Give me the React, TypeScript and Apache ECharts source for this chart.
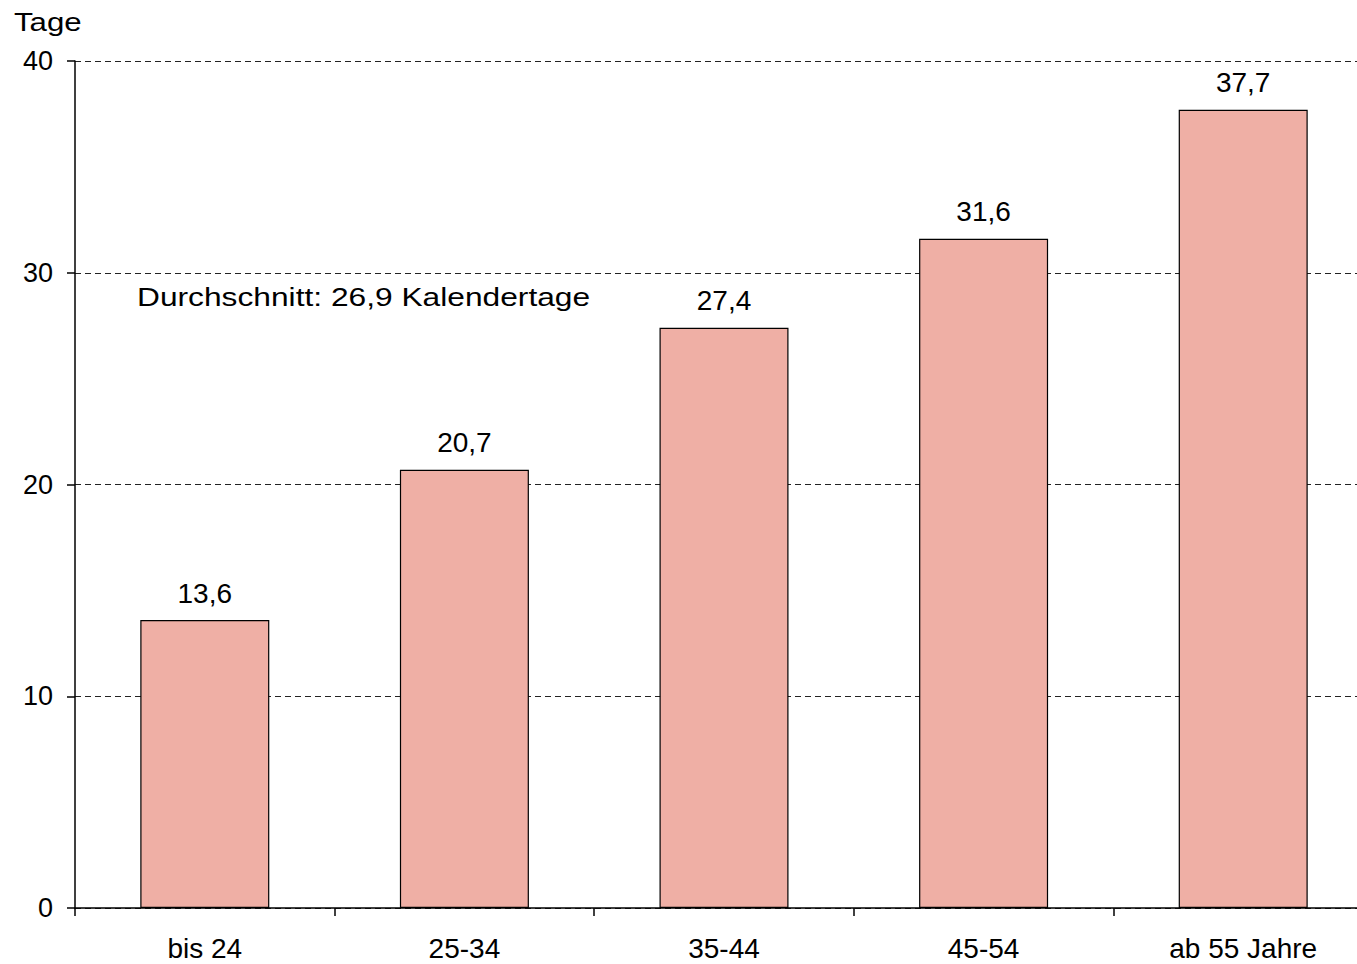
import React, { useEffect, useRef } from "react";
import * as echarts from "echarts";

const categories = ["bis 24", "25-34", "35-44", "45-54", "ab 55 Jahre"];
const values = [13.6, 20.7, 27.4, 31.6, 37.7];
const yTicks = [0, 10, 20, 30, 40];
const axisTitle = "Tage";
const averageNote = "Durchschnitt: 26,9 Kalendertage";

const FONT = "'Liberation Sans', Arial, Helvetica, sans-serif";

export default function App() {
  const ref = useRef<HTMLDivElement>(null);
  useEffect(() => {
    if (!ref.current) return;
    const chart = echarts.init(ref.current, undefined, { renderer: "svg" });
    chart.setOption({
      animation: false,
      backgroundColor: "#ffffff",
      textStyle: { fontFamily: FONT },
      grid: { left: 75, right: 0, top: 61, bottom: 56, containLabel: false },
      xAxis: {
        type: "category",
        data: categories,
        boundaryGap: true,
        axisLine: { show: true, lineStyle: { color: "#000", width: 1.5 } },
        axisTick: { show: true, alignWithLabel: false, length: 8, lineStyle: { color: "#000", width: 1.5 } },
        axisLabel: { color: "#000", fontSize: 28, fontFamily: FONT, margin: 26 },
        splitLine: { show: false },
      },
      yAxis: {
        type: "value",
        min: yTicks[0],
        max: yTicks[yTicks.length - 1],
        interval: 10,
        axisLine: { show: true, lineStyle: { color: "#000", width: 1.5 } },
        axisTick: { show: true, inside: false, length: 8, lineStyle: { color: "#000", width: 1.5 } },
        axisLabel: { color: "#000", fontSize: 27, fontFamily: FONT, margin: 22 },
        splitLine: { show: true, lineStyle: { color: "#222", width: 1, type: [6, 4] } },
      },
      graphic: [
        {
          type: "text",
          x: 14,
          y: 22,
          scaleX: 1.2,
          style: { text: axisTitle, fill: "#000", font: `26px ${FONT}`, textVerticalAlign: "middle" },
        },
        {
          type: "text",
          x: 137,
          y: 297,
          scaleX: 1.22,
          style: { text: averageNote, fill: "#000", font: `26px ${FONT}`, textVerticalAlign: "middle" },
        },
      ],
      series: [
        {
          type: "bar",
          data: values,
          barWidth: 129,
          itemStyle: { color: "#EFAFA5", borderColor: "#000", borderWidth: 1.2 },
          label: {
            show: true,
            position: "top",
            distance: 13,
            color: "#000",
            fontSize: 28,
            fontFamily: FONT,
            formatter: (p: any) => String(p.value).replace(".", ","),
          },
        },
      ],
    });
    return () => chart.dispose();
  }, []);
  return (
    <div
      style={{
        position: "fixed",
        left: 0,
        top: 0,
        width: 1357,
        height: 964,
        overflow: "hidden",
        background: "#fff",
      }}
    >
      <div ref={ref} style={{ width: 1373, height: 964 }} />
    </div>
  );
}
